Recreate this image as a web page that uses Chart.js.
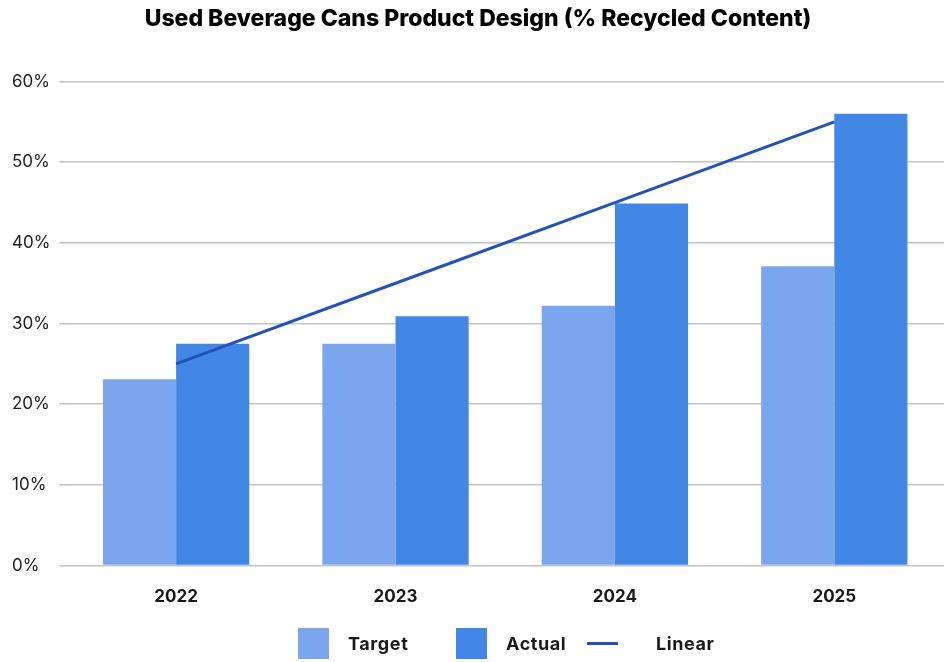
<!DOCTYPE html>
<html lang="en">
<head>
    <meta charset="UTF-8">
    <title>Used Beverage Cans Product Design</title>
    <script src="https://cdn.jsdelivr.net/npm/chart.js"></script>
    <style>
        body {
            margin: 0;
            padding: 0;
            background: #fff;
            font-family: Inter, sans-serif;
        }
        .wrap {
            position: relative;
            width: 950px;
            height: 662px;
        }
        #legend {
            position: absolute;
            left: 298px;
            top: 628px;
            display: flex;
            align-items: center;
            font-size: 18px;
            font-weight: 700;
            letter-spacing: 0.6px;
            color: #1a1a1a;
        }
        .item {
            display: flex;
            align-items: center;
        }
        .item:nth-child(1) { width: 158px; }
        .item:nth-child(2) { width: 131px; }
        .swatch {
            width: 31px;
            height: 31px;
            margin-right: 19px;
        }
        .dash {
            width: 31px;
            height: 3px;
            margin-right: 38px;
        }
    </style>
</head>
<body>
<div class="wrap">
    <canvas id="cansChart" width="950" height="662"></canvas>
    <div id="legend"></div>
</div>
<script>
    const years = ['2022', '2023', '2024', '2025'];
    const target = [23.1, 27.5, 32.2, 37.1];
    const actual = [27.5, 30.9, 44.9, 56.0];
    const linear = [25.0, 35.0, 45.0, 55.0];
    const yTicks = [0, 10, 20, 30, 40, 50, 60];

    const ctx = document.getElementById('cansChart').getContext('2d');
    const chart = new Chart(ctx, {
        type: 'bar',
        data: {
            labels: years,
            datasets: [
                { label: 'Target', data: target, backgroundColor: '#7ba6ee', order: 1 },
                { label: 'Actual', data: actual, backgroundColor: '#4287e6', order: 1 },
                {
                    type: 'line', label: 'Linear', data: linear,
                    borderColor: '#2453b8', borderWidth: 3,
                    pointRadius: 0, fill: false, order: 0
                }
            ]
        },
        options: {
            responsive: false,
            animation: false,
            layout: { padding: { left: 12, right: 6, bottom: 42 } },
            datasets: { bar: { categoryPercentage: 0.667, barPercentage: 1 } },
            plugins: {
                legend: { display: false },
                tooltip: { enabled: false },
                title: {
                    display: true,
                    text: 'Used Beverage Cans Product Design (% Recycled Content)',
                    color: '#000',
                    font: { family: 'Inter', size: 23, weight: '800' },
                    padding: { top: 5, bottom: 49 }
                }
            },
            scales: {
                x: {
                    grid: { display: false },
                    border: { display: false },
                    ticks: {
                        color: '#1a1a1a',
                        padding: 13,
                        font: { family: 'Inter', size: 17, weight: '700' }
                    }
                },
                y: {
                    min: 0,
                    max: 60,
                    afterBuildTicks: (axis) => { axis.ticks = yTicks.map(v => ({ value: v })); },
                    border: { display: false },
                    grid: { color: '#c4c4c4', lineWidth: 1.6, tickLength: 7 },
                    ticks: {
                        crossAlign: 'far',
                        padding: 4.5,
                        color: '#222',
                        font: { family: 'Inter', size: 17 },
                        callback: (v) => v + '%'
                    }
                }
            }
        }
    });

    // html legend built from the datasets
    const legend = document.getElementById('legend');
    chart.data.datasets.forEach((ds) => {
        const item = document.createElement('div');
        item.className = 'item';
        const mark = document.createElement('span');
        if (ds.type === 'line') {
            mark.className = 'dash';
            mark.style.background = ds.borderColor;
        } else {
            mark.className = 'swatch';
            mark.style.background = ds.backgroundColor;
        }
        const text = document.createElement('span');
        text.textContent = ds.label;
        item.appendChild(mark);
        item.appendChild(text);
        legend.appendChild(item);
    });
</script>
</body>
</html>
